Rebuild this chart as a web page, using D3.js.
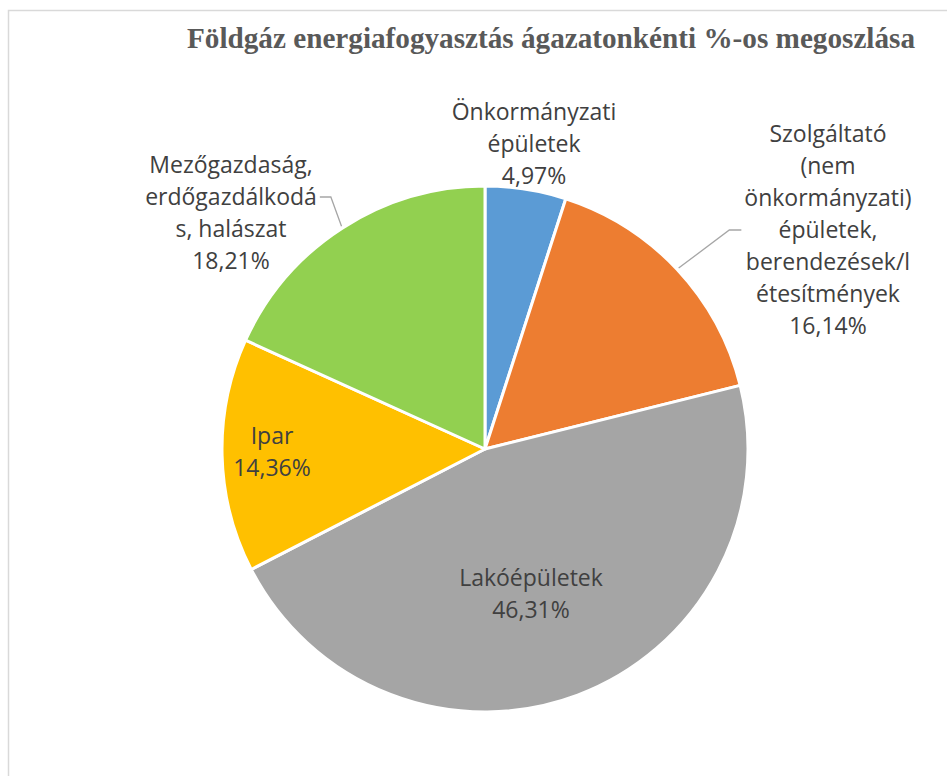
<!DOCTYPE html>
<html>
<head>
<meta charset="utf-8">
<script src="https://cdn.jsdelivr.net/npm/d3@7"></script>
<style>
  body { margin: 0; background: #fff; }
  svg { display: block; }
</style>
</head>
<body>
<svg id="chart" width="947" height="776"></svg>
<script>
const title = "Földgáz energiafogyasztás ágazatonkénti %-os megoszlása"

const categories = [
    ["Önkormányzati", "épületek"],
    ["Szolgáltató", "(nem", "önkormányzati)", "épületek,", "berendezések/l", "étesítmények"],
    ["Lakóépületek"],
    ["Ipar"],
    ["Mezőgazdaság,", "erdőgazdálkodá", "s, halászat"]
]
const values = [4.97, 16.14, 46.31, 14.36, 18.21]
const colors = ["#5b9bd5", "#ed7d31", "#a5a5a5", "#ffc000", "#92d050"]

// label block centres (layout), and which side the leader line attaches to
const labelLayout = [
    { x: 534, y: 144, leader: null },
    { x: 828, y: 230, leader: "left" },
    { x: 531, y: 594, leader: null },
    { x: 272, y: 452, leader: null },
    { x: 231, y: 213, leader: "right" }
]

const svg = d3.select("#chart")
const cx = 485, cy = 449, radius = 263
const lineH = 32

// chart border
svg.append("rect")
    .attr("x", 8.5).attr("y", 10.5)
    .attr("width", 960).attr("height", 800)
    .attr("fill", "none")
    .attr("stroke", "#d9d9d9")
    .attr("stroke-width", 1.5)

svg.append("text")
    .attr("x", 551).attr("y", 48)
    .attr("text-anchor", "middle")
    .attr("font-family", "'Liberation Serif', 'Times New Roman', serif")
    .attr("font-weight", "bold")
    .attr("font-size", 29)
    .attr("fill", "#595959")
    .attr("textLength", 728)
    .attr("lengthAdjust", "spacingAndGlyphs")
    .text(title)

const pie = d3.pie().sort(null).value(d => d)
const arcs = pie(values)
const arc = d3.arc().innerRadius(0).outerRadius(radius)

const g = svg.append("g").attr("transform", `translate(${cx},${cy})`)

g.selectAll("path.slice")
    .data(arcs)
    .enter().append("path")
    .attr("class", "slice")
    .attr("d", arc)
    .attr("fill", (d, i) => colors[i])
    .attr("stroke", "#fff")
    .attr("stroke-width", 3)
    .attr("stroke-linejoin", "round")

const fmt = v => v.toFixed(2).replace(".", ",") + "%"

arcs.forEach(function(d, i) {
    const lines = categories[i].concat([fmt(values[i])])
    const lay = labelLayout[i]
    const top = lay.y - (lines.length - 1) * lineH / 2
    const txt = svg.append("text")
        .attr("text-anchor", "middle")
        .attr("font-family", "'Open Sans', sans-serif")
        .attr("font-size", 23)
        .attr("fill", "#404040")
    lines.forEach(function(s, k) {
        txt.append("tspan")
            .attr("x", lay.x)
            .attr("y", top + k * lineH + 8)
            .text(s)
    })

    if (lay.leader) {
        const bb = txt.node().getBBox()
        const mid = (d.startAngle + d.endAngle) / 2
        const p0 = [cx + Math.sin(mid) * (radius + 2), cy - Math.cos(mid) * (radius + 2)]
        // leader attaches at the line nearest the slice
        let ly = lay.leader === "left" ? top + 3 * lineH : top + lineH
        let ex = lay.leader === "left" ? bb.x - 3 : bb.x + bb.width + 3
        let elbow = lay.leader === "left" ? ex - 12 : ex + 11
        svg.append("polyline")
            .attr("points", [p0, [elbow, ly], [ex, ly]].map(p => p.join(",")).join(" "))
            .attr("fill", "none")
            .attr("stroke", "#a6a6a6")
            .attr("stroke-width", 1.3)
    }
})
</script>
</body>
</html>
